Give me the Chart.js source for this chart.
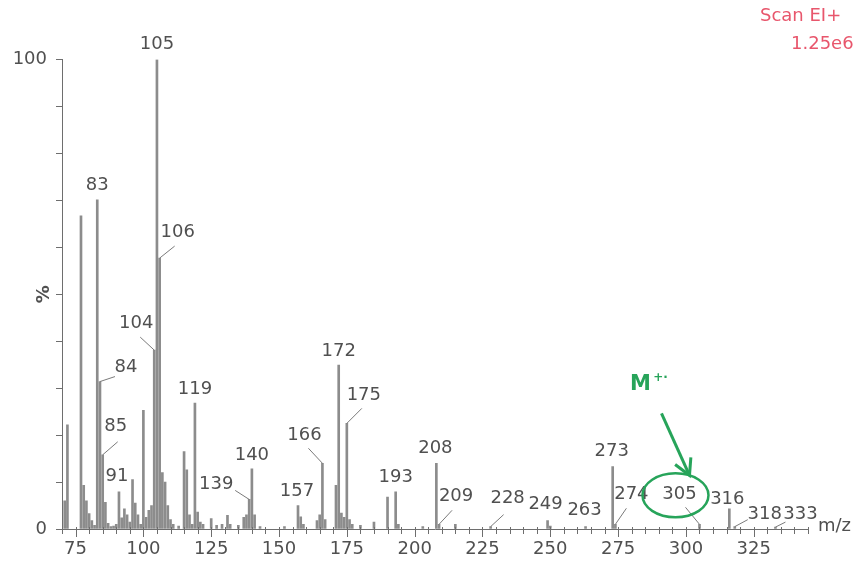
<!DOCTYPE html>
<html>
<head>
<meta charset="utf-8">
<script src="https://cdn.jsdelivr.net/npm/chart.js@4/dist/chart.umd.min.js"></script>
<style>
  html, body { margin: 0; padding: 0; background: #ffffff; }
  #wrap { width: 856px; height: 561px; }
</style>
</head>
<body>
<div id="wrap"><canvas id="ms" width="856" height="561"></canvas></div>
<script>
// EI mass spectrum: m/z of each peak and its relative intensity (%)
const mzValues = [
  71, 72, 77, 78, 79, 80, 81, 82, 83, 84, 85, 86, 87, 88, 89, 90,
  91, 92, 93, 94, 95, 96, 97, 98, 99, 100, 101, 102, 103, 104, 105, 106,
  107, 108, 109, 110, 111, 113, 115, 116, 117, 118, 119, 120, 121, 122,
  125, 127, 129, 131, 132, 135, 137, 138, 139, 140, 141, 143, 152,
  157, 158, 159, 164, 165, 166, 167, 171, 172, 173, 174, 175, 176, 177, 180,
  185, 190, 193, 194, 203, 208, 209, 215, 228, 249, 250, 263, 273, 274,
  305, 316, 318, 333
];
const intensities = [
  6.0, 22.2, 66.7, 9.3, 6.0, 3.3, 1.8, 0.8, 70.1, 31.4, 15.8, 5.7, 1.2, 0.5, 0.6, 1.0,
  7.9, 2.4, 4.3, 3.0, 1.5, 10.5, 5.5, 3.0, 1.0, 25.3, 2.5, 4.0, 5.0, 38.1, 100, 57.7,
  12.0, 10.0, 5.0, 2.0, 1.0, 0.6, 16.5, 12.6, 3.0, 1.0, 26.8, 3.6, 1.5, 1.0,
  2.2, 0.8, 1.0, 2.9, 1.0, 0.8, 2.5, 3.0, 6.3, 12.8, 3.0, 0.5, 0.5,
  5.0, 2.6, 1.0, 1.8, 3.0, 14.0, 2.0, 9.3, 34.9, 3.4, 2.5, 22.5, 2.0, 1.0, 0.8,
  1.5, 6.8, 7.9, 1.0, 0.5, 14.0, 1.0, 1.0, 0.5, 1.8, 0.6, 0.5, 13.3, 1.0,
  1.0, 4.3, 0.5, 0.4
];

// Axis ranges and tick labels
const xMin = 70, xMax = 345, xMinorStep = 5, xMajorStep = 25;
const xTickLabels = [75, 100, 125, 150, 175, 200, 225, 250, 275, 300, 325];
const yTickLabels = [0, 100];
const molecularIonMz = 305;

// Where each peak label sits relative to the top of its bar (px),
// with an optional leader line start
const peakLabels = [
  { mz: 105, dx: 0,   dy: -15.5 },
  { mz: 83,  dx: 0,   dy: -15 },
  { mz: 106, dx: 18,  dy: -26, lead: [15, -12] },
  { mz: 104, dx: -18, dy: -27, lead: [-14, -13] },
  { mz: 84,  dx: 26,  dy: -14, lead: [15, -5] },
  { mz: 85,  dx: 13,  dy: -28, lead: [15, -13] },
  { mz: 91,  dx: -2,  dy: -16 },
  { mz: 119, dx: 0,   dy: -14 },
  { mz: 139, dx: -33, dy: -15, lead: [-14, -9] },
  { mz: 140, dx: 0,   dy: -14 },
  { mz: 157, dx: -1,  dy: -14 },
  { mz: 166, dx: -18, dy: -28, lead: [-14, -15] },
  { mz: 172, dx: 0,   dy: -14 },
  { mz: 175, dx: 17,  dy: -28, lead: [15, -15] },
  { mz: 193, dx: 0,   dy: -15 },
  { mz: 208, dx: -1,  dy: -15 },
  { mz: 209, dx: 17,  dy: -28, lead: [13, -14] },
  { mz: 228, dx: 17,  dy: -28, lead: [13, -12] },
  { mz: 249, dx: -2,  dy: -16 },
  { mz: 263, dx: -1,  dy: -16 },
  { mz: 273, dx: -1,  dy: -15 },
  { mz: 274, dx: 16,  dy: -30, lead: [11, -16] },
  { mz: 305, dx: -20, dy: -30, lead: [-14, -17] },
  { mz: 316, dx: -2,  dy: -9 },
  { mz: 318, dx: 30,  dy: -12, lead: [13, -7] },
  { mz: 333, dx: 25,  dy: -13, lead: [10, -5] }
];

const inkColor = '#505050';
const axisColor = '#6e6e6e';
const barColor = '#8c8c8c';
const ionGreen = '#27a45a';
const scanRed = '#e8566c';
const numFont = '"DejaVu Sans", sans-serif';

const spectrumDecor = {
  id: 'spectrumDecor',
  afterDraw(chart) {
    const { ctx, chartArea: a } = chart;
    const xs = chart.scales.x, ys = chart.scales.y;
    ctx.save();

    // x-axis tick marks: long on majors, short on minors
    ctx.strokeStyle = axisColor;
    ctx.lineWidth = 1;
    for (let v = xMin; v <= xMax; v += xMinorStep) {
      const px = Math.round(xs.getPixelForValue(v)) + 0.5;
      const major = v % xMajorStep === 0;
      ctx.beginPath();
      ctx.moveTo(px, a.bottom - 2);
      ctx.lineTo(px, a.bottom + (major ? 8 : 5));
      ctx.stroke();
    }

    // peak labels with leader lines
    ctx.font = '18px ' + numFont;
    ctx.textAlign = 'center';
    ctx.textBaseline = 'middle';
    peakLabels.forEach(p => {
      const i = mzValues.indexOf(p.mz);
      const bx = xs.getPixelForValue(p.mz);
      const by = ys.getPixelForValue(intensities[i]);
      if (p.lead) {
        ctx.strokeStyle = '#7a7a7a';
        ctx.lineWidth = 1;
        ctx.beginPath();
        ctx.moveTo(bx + p.lead[0], by + p.lead[1]);
        ctx.lineTo(bx, by);
        ctx.stroke();
      }
      ctx.fillStyle = inkColor;
      ctx.fillText(String(p.mz), bx + p.dx, by + p.dy);
    });

    // y-axis title
    ctx.save();
    ctx.translate(44, (a.top + a.bottom) / 2);
    ctx.rotate(-Math.PI / 2);
    ctx.font = 'bold 18px ' + numFont;
    ctx.fillStyle = inkColor;
    ctx.fillText('%', 0, 0);
    ctx.restore();

    // x-axis unit
    ctx.font = '18px ' + numFont;
    ctx.textAlign = 'left';
    ctx.fillStyle = inkColor;
    ctx.fillText('m/z', a.right + 10, a.bottom - 3);

    // acquisition info
    ctx.font = '18px ' + numFont;
    ctx.fillStyle = scanRed;
    ctx.textBaseline = 'top';
    ctx.fillText('Scan EI+', 760, 7);
    ctx.fillText('1.25e6', 791, 35);

    // molecular ion marker
    const mi = mzValues.indexOf(molecularIonMz);
    const mx = xs.getPixelForValue(molecularIonMz);
    const my = ys.getPixelForValue(intensities[mi]);
    ctx.strokeStyle = ionGreen;
    ctx.fillStyle = ionGreen;
    ctx.lineWidth = 2.5;
    ctx.beginPath();
    ctx.ellipse(mx - 24, my - 29, 33, 22, 0, 0, Math.PI * 2);
    ctx.stroke();

    const sx = mx - 38, sy = my - 111, tx = mx - 10, ty = my - 49;
    ctx.lineWidth = 3;
    ctx.beginPath();
    ctx.moveTo(sx, sy);
    ctx.lineTo(tx, ty);
    ctx.stroke();
    const ang = Math.atan2(ty - sy, tx - sx);
    ctx.beginPath();
    ctx.moveTo(tx - 18 * Math.cos(ang - 0.5), ty - 18 * Math.sin(ang - 0.5));
    ctx.lineTo(tx, ty);
    ctx.lineTo(tx - 18 * Math.cos(ang + 0.5), ty - 18 * Math.sin(ang + 0.5));
    ctx.stroke();

    ctx.textAlign = 'center';
    ctx.textBaseline = 'middle';
    ctx.font = 'bold 21px ' + numFont;
    ctx.fillText('M', mx - 59, my - 140);
    ctx.font = 'bold 12px ' + numFont;
    ctx.fillText('+·', mx - 39, my - 146);

    ctx.restore();
  }
};

new Chart(document.getElementById('ms'), {
  type: 'bar',
  data: {
    datasets: [{
      data: mzValues.map((m, i) => ({ x: m, y: intensities[i] })),
      backgroundColor: barColor,
      barThickness: 2,
      borderWidth: 0
    }]
  },
  options: {
    responsive: false,
    animation: false,
    events: [],
    layout: { padding: { left: 0, right: 48, top: 59.5, bottom: 0 } },
    plugins: { legend: { display: false }, tooltip: { enabled: false }, title: { display: false } },
    scales: {
      x: {
        type: 'linear',
        min: xMin,
        max: xMax,
        offset: false,
        afterFit(scale) { scale.height = 32; },
        border: { display: true, color: axisColor, width: 1 },
        grid: { display: true, drawOnChartArea: false, drawTicks: false },
        ticks: {
          stepSize: xMinorStep,
          autoSkip: false,
          maxRotation: 0,
          padding: 10,
          color: inkColor,
          font: { family: numFont, size: 18 },
          callback: v => (xTickLabels.includes(v) ? String(v) : '')
        }
      },
      y: {
        min: 0,
        max: 100,
        afterFit(scale) { scale.width = 62; },
        border: { display: true, color: axisColor, width: 1 },
        grid: { display: true, drawOnChartArea: false, drawTicks: true, tickLength: 6, color: axisColor },
        ticks: {
          stepSize: 10,
          padding: 9,
          color: inkColor,
          font: { family: numFont, size: 18 },
          callback: v => (yTickLabels.includes(v) ? String(v) : '')
        }
      }
    }
  },
  plugins: [spectrumDecor]
});
</script>
</body>
</html>
